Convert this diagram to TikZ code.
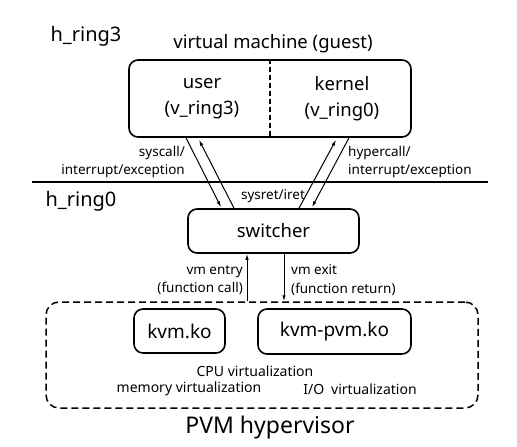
\documentclass[tikz,border=0pt]{standalone}
\usepackage{fontspec}
\setmainfont{Noto Sans}
\usepackage{tikz}
\usetikzlibrary{arrows.meta,calc,positioning}
\tikzset{
  blk/.style={draw,rounded corners=9pt,line width=1.6pt,inner sep=0pt},
  hvbox/.style={draw,rounded corners=13pt,line width=1.5pt,inner sep=0pt,dash pattern=on 7pt off 4pt},
  trans/.style={-{Latex[length=6pt,width=3.5pt]},line width=1pt},
  ringtxt/.style={font=\fontsize{20}{24}\selectfont},
  big/.style={font=\fontsize{18.5}{26}\selectfont,align=center},
  lbl/.style={font=\fontsize{13.5}{18.5}\selectfont,inner sep=0pt},
  virt/.style={font=\fontsize{14}{17}\selectfont,inner sep=0pt}
}
\begin{document}
\begin{tikzpicture}[x=1pt,y=-1pt]
\useasboundingbox (0,0) rectangle (517,447);

% guest side
\node[ringtxt] (hr3) at (86,36) {h\_ring3};
\node[big] (vmtitle) at (273,44) {virtual machine (guest)};
\node[blk,minimum width=282pt,minimum height=77pt] (vm) at (270,98.5) {};
\draw[line width=1.3pt,dash pattern=on 5pt off 3pt] (vm.north) -- (vm.south);
\node[big] (user) at (202,99) {user\\(v\_ring3)};
\node[big] (kern) at (342,99) {kernel\\(v\_ring0)};

% ring boundary
\draw[line width=1.5pt] (32,182) -- (488,182);
\node[ringtxt] (hr0) at (81,201) {h\_ring0};

% switcher
\node[blk,minimum width=171pt,minimum height=44pt,font=\fontsize{18.5}{22}\selectfont] (sw) at (273.5,231) {switcher};

% transitions guest <-> switcher
\coordinate (u1) at ($(vm.south)+(-84,0)$);
\coordinate (u2) at ($(vm.south)+(-71,2)$);
\coordinate (k1) at ($(vm.south)+(66,2)$);
\coordinate (k2) at ($(vm.south)+(79,0)$);
\coordinate (s1) at ($(sw.north)+(-52.5,-1)$);
\coordinate (s2) at ($(sw.north)+(-39.5,0)$);
\coordinate (s3) at ($(sw.north)+(25.5,0)$);
\coordinate (s4) at ($(sw.north)+(38.5,-1)$);
\draw[trans] (u1) -- (s1);
\draw[trans] (s2) -- (u2);
\draw[trans] (s3) -- (k1);
\draw[trans] (k2) -- (s4);
\node[lbl,anchor=east,align=right] (sysc) at (185,162) {syscall/\\interrupt/exception};
\node[lbl,anchor=west,align=left] (hypc) at (348,162) {hypercall/\\interrupt/exception};
\node[lbl] (sret) at (273,196) {sysret/iret};

% hypervisor
\node[hvbox,minimum width=432pt,minimum height=106pt] (hyp) at (262,355) {};
\node[blk,minimum width=91pt,minimum height=44pt,font=\fontsize{19}{22}\selectfont] (kvm) at (179.5,331) {kvm.ko};
\node[blk,minimum width=153pt,minimum height=45pt,font=\fontsize{19}{22}\selectfont] (pvm) at (334.5,331.5) {kvm-pvm.ko};
\node[virt] (cpu) at (255,371) {CPU virtualization};
\node[virt] (mem) at (189,389) {memory virtualization};
\node[virt] (io) at (360,389) {I/O\enspace virtualization};
\node[font=\fontsize{23}{27}\selectfont] (pvmh) at (270,428) {PVM hypervisor};

% vm entry / exit
\coordinate (e1) at (hyp.north -| 247,0);
\coordinate (e2) at (sw.south -| 247,0);
\coordinate (x1) at (sw.south -| 284,0);
\coordinate (x2) at (hyp.north -| 284,0);
\draw[trans] (e1) -- (e2);
\draw[trans] (x1) -- (x2);
\node[lbl,anchor=east,align=right] (vmen) at (243,280) {vm entry\\(function call)};
\node[lbl,anchor=west,align=left] (vmex) at (291,280) {vm exit\\(function return)};
\end{tikzpicture}
\end{document}
